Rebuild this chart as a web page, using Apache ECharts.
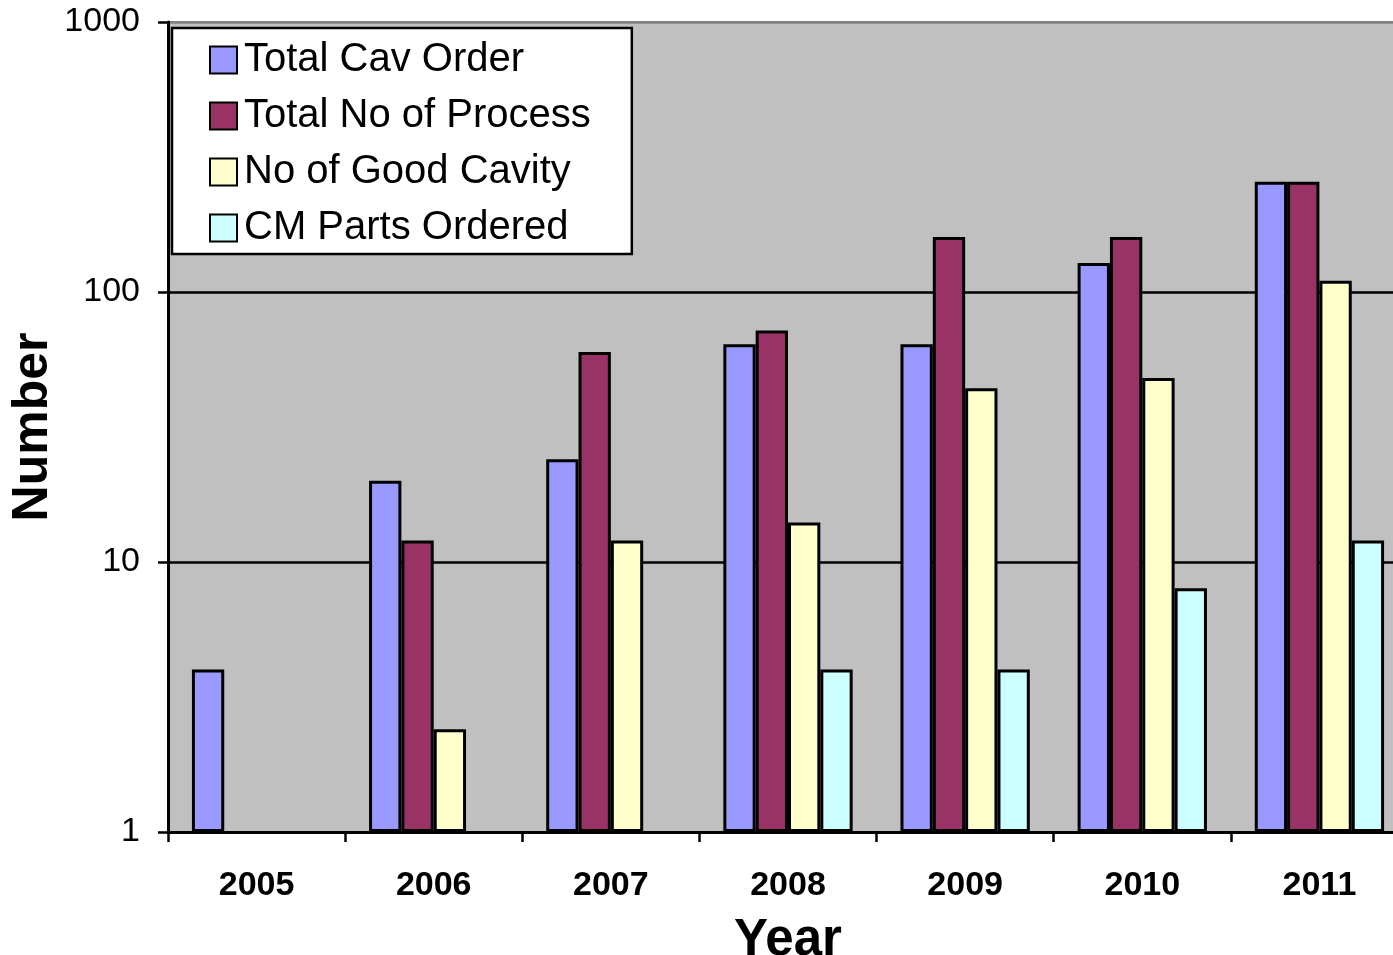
<!DOCTYPE html>
<html>
<head>
<meta charset="utf-8">
<script src="https://cdn.jsdelivr.net/npm/echarts@6/dist/echarts.min.js"></script>
<style>
html,body{margin:0;padding:0;background:#fff;overflow:hidden;}
#chart{width:1393px;height:955px;}
</style>
</head>
<body>
<div id="chart"></div>
<script>
var years = ['2005','2006','2007','2008','2009','2010','2011'];
var seriesNames = ['Total Cav Order','Total No of Process','No of Good Cavity','CM Parts Ordered'];
var totalCavOrder = [4, 20, 24, 64, 64, 128, 256];
var totalNoOfProcess = [null, 12, 60, 72, 160, 160, 256];
var noOfGoodCavity = [null, 2.4, 12, 14, 44, 48, 110];
var cmPartsOrdered = [null, null, null, 4, 4, 8, 12];
var yAxisTitle = 'Number';
var xAxisTitle = 'Year';
var colors = ['#9999FF', '#993366', '#FFFFCC', '#CCFFFF'];
var allData = [totalCavOrder, totalNoOfProcess, noOfGoodCavity, cmPartsOrdered];

var FONT = 'Liberation Sans, Arial, sans-serif';
var chart = echarts.init(document.getElementById('chart'));
var series = allData.map(function (d, i) {
  return {
    name: seriesNames[i],
    type: 'bar',
    data: d.map(function (v) { return v == null ? '-' : v; }),
    barGap: '0%',
    barCategoryGap: '27%',
    itemStyle: { color: colors[i], borderColor: '#000', borderWidth: 3 },
    emphasis: { disabled: true }
  };
});
chart.setOption({
  animation: false,
  textStyle: { fontFamily: FONT },
  grid: {
    left: 168, top: 22, width: 1240, height: 810,
    outerBoundsMode: 'none',
    show: true, backgroundColor: '#C0C0C0', borderColor: '#808080', borderWidth: 2,
    containLabel: false
  },
  graphic: [{
    type: 'text',
    x: 33, y: 427,
    rotation: Math.PI / 2,
    style: {
      text: yAxisTitle,
      fontSize: 50, fontWeight: 'bold', fill: '#000', fontFamily: FONT,
      align: 'center', verticalAlign: 'middle'
    }
  }],
  legend: {
    orient: 'vertical',
    left: 172, top: 28,
    backgroundColor: '#fff', borderColor: '#000', borderWidth: 2.5,
    padding: [12, 41, 6, 37],
    icon: 'rect',
    itemWidth: 27, itemHeight: 27, itemGap: 16,
    textStyle: { fontSize: 40, color: '#000', fontFamily: FONT, lineHeight: 40, padding: [0, 0, 0, 2] },
    data: seriesNames
  },
  xAxis: {
    type: 'category',
    data: years,
    name: xAxisTitle,
    nameLocation: 'middle',
    nameGap: 83,
    nameTextStyle: { fontSize: 51, fontWeight: 'bold', color: '#000', fontFamily: FONT },
    axisLine: { lineStyle: { color: '#000', width: 3 } },
    axisTick: { show: true, length: 10, lineStyle: { color: '#000', width: 2.5 } },
    axisLabel: { fontSize: 34, fontWeight: 'bold', color: '#000', margin: 37, fontFamily: FONT },
    splitLine: { show: false }
  },
  yAxis: {
    type: 'log',
    logBase: 10,
    min: 1,
    max: 1000,
    axisLine: { show: true, lineStyle: { color: '#000', width: 3 } },
    axisTick: { show: true, length: 10, lineStyle: { color: '#000', width: 2.5 } },
    axisLabel: { fontSize: 34, color: '#000', margin: 28, fontFamily: FONT,
      formatter: function (v) { return String(Math.round(v)); } },
    splitLine: { show: true, lineStyle: { color: ['#000', '#000', '#000', '#808080'], width: 2.5 } }
  },
  series: series
});
</script>
</body>
</html>
